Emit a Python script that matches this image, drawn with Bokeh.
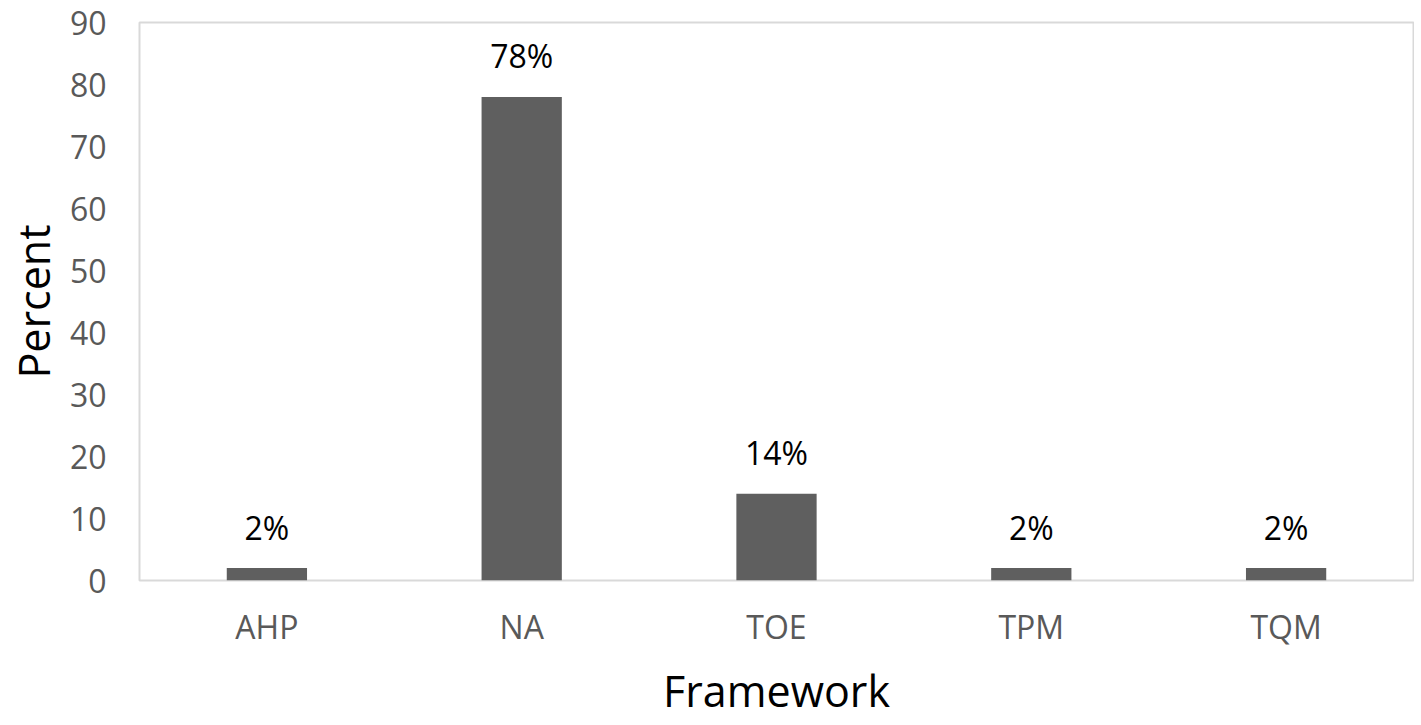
from bokeh.plotting import figure
from bokeh.models import ColumnDataSource, FixedTicker, Range1d
from bokeh.embed import file_html
from bokeh.resources import INLINE

categories = ["AHP", "NA", "TOE", "TPM", "TQM"]
percent = [2, 78, 14, 2, 2]
labels = ["2%", "78%", "14%", "2%", "2%"]
y_ticks = [0, 10, 20, 30, 40, 50, 60, 70, 80, 90]

FONT = "Open Sans"

src = ColumnDataSource(dict(cat=categories, val=percent, lab=labels))

p = figure(x_range=categories, y_range=Range1d(0, 90), width=1414, height=722,
           output_backend="svg", toolbar_location=None,
           min_border_left=139, min_border_top=22, min_border_right=1, min_border_bottom=142)

p.vbar(x="cat", top="val", width=0.315, source=src, fill_color="#5f5f5f", line_color=None)
p.text(x="cat", y="val", text="lab", source=src, text_align="center", text_baseline="alphabetic",
       y_offset=-41, text_font_size="32px", text_color="#000000", text_font={"value": FONT})

p.grid.visible = False
p.outline_line_color = "#d9d9d9"
p.outline_line_width = 2
p.background_fill_color = "white"
p.border_fill_color = "white"

for ax in (p.xaxis[0], p.yaxis[0]):
    ax.axis_line_color = None
    ax.major_tick_line_color = None
    ax.minor_tick_line_color = None
    ax.major_tick_out = 0
    ax.major_tick_in = 0
    ax.minor_tick_out = 0
    ax.major_label_text_font = FONT
    ax.major_label_text_font_size = "32px"
    ax.major_label_text_color = "#595959"
    ax.axis_label_text_font = FONT
    ax.axis_label_text_font_size = "43px"
    ax.axis_label_text_color = "#000000"
    ax.axis_label_text_font_style = "normal"

p.yaxis.ticker = FixedTicker(ticks=y_ticks)
p.yaxis.axis_label = "Percent"
p.yaxis.major_label_standoff = 33
p.yaxis.axis_label_standoff = 4
p.xaxis.axis_label = "Framework"
p.xaxis.major_label_standoff = 24
p.xaxis.axis_label_standoff = 10

open("out.html", "w").write(file_html(p, INLINE))
